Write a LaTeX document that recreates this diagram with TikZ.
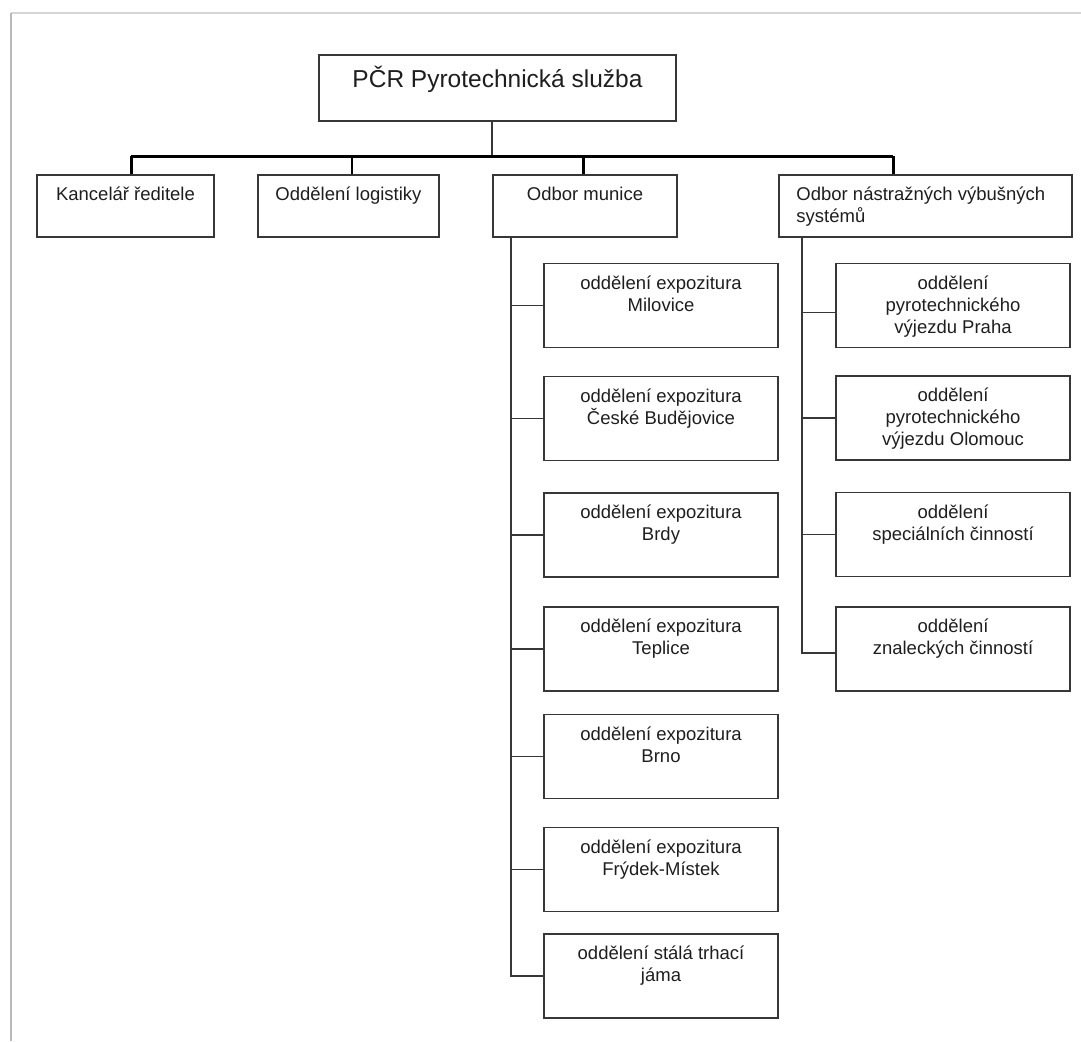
\documentclass[tikz,border=0pt]{standalone}
\usepackage{fontspec}
\setmainfont{Liberation Sans}
\usepackage{xcolor}
\usetikzlibrary{positioning,calc}
\definecolor{box_c}{RGB}{55,55,55}
\definecolor{txt_c}{RGB}{30,30,30}
\definecolor{edge_c}{RGB}{185,185,185}

\begin{document}
\begin{tikzpicture}[
  x=1pt, y=-1pt,
  every node/.style={text=txt_c},
  unit/.style={draw=box_c, line width=1.5pt, inner sep=0pt,
               minimum width=234pt, minimum height=84pt},
  head/.style={draw=box_c, line width=1.5pt, inner sep=0pt, minimum height=62pt},
  lab/.style={font=\fontsize{18.5}{22}\selectfont, align=center, inner sep=0pt,
              anchor=north, yshift=-12.5pt},
  link/.style={draw=box_c, line width=1.4pt},
  bus/.style={draw=black, line width=3pt},
]
\useasboundingbox (0,0) rectangle (1081,1041);
% page edge
\draw[edge_c!60, line width=2pt] (11,13) -- (1081,13);
\draw[edge_c, line width=2.5pt] (11,13) -- (11,1041);

% top
\node[draw=box_c, line width=1.5pt, minimum width=357pt, minimum height=66pt] (root) at (497.5,88) {};
\node[font=\fontsize{24.5}{28}\selectfont, inner sep=0pt, anchor=base] (roottxt) at (497.5,88) {PČR Pyrotechnická služba};

% first level
\node[head, minimum width=177pt] (kanc) at (125.5,206) {};
\node[lab] at (kanc.north) {Kancelář ředitele};
\node[head, minimum width=181pt] (log) at (348.5,206) {};
\node[lab] at (log.north) {Oddělení logistiky};
\node[head, minimum width=184pt] (mun) at (585,206) {};
\node[lab] at (mun.north) {Odbor munice};
\node[head, minimum width=293pt] (nvs) at (925.5,206) {};
\node[lab, align=left, anchor=north west, xshift=18pt] at (nvs.north west) {Odbor nástražných výbušných\\systémů};

% bus
\coordinate (b0) at (492,156);
\coordinate (b1) at (131,156);
\coordinate (b2) at (352,156);
\coordinate (b3) at (583,156);
\coordinate (b4) at (893,156);
\draw[link] (root.south -| b0) -- (b0);
\draw[bus] (b1) -- (b4);
\draw[bus] (b1) -- (b1 |- kanc.north);
\draw[bus, line width=2.6pt] (b2) -- (b2 |- log.north);
\draw[bus] (b3) -- (b3 |- mun.north);
\draw[bus] (b4) -- (b4 |- nvs.north);

% Odbor munice
\node[unit] (mil) at (661,305.5) {};
\node[lab] at (mil.north) {oddělení expozitura\\Milovice};
\node[unit] (bud) at (661,418.5) {};
\node[lab] at (bud.north) {oddělení expozitura\\České Budějovice};
\node[unit] (brd) at (661,535) {};
\node[lab] at (brd.north) {oddělení expozitura\\Brdy};
\node[unit] (tep) at (661,649) {};
\node[lab] at (tep.north) {oddělení expozitura\\Teplice};
\node[unit] (brn) at (661,756.5) {};
\node[lab] at (brn.north) {oddělení expozitura\\Brno};
\node[unit] (fry) at (661,869.5) {};
\node[lab] at (fry.north) {oddělení expozitura\\Frýdek-Místek};
\node[unit] (jam) at (661,976) {};
\node[lab] at (jam.north) {oddělení stálá trhací\\jáma};

\coordinate (ms) at (511,237);
\draw[link] (ms |- mun.south) -- (ms |- jam.west) -- (jam.west);
\foreach \b in {mil,bud,brd,tep,brn,fry}
  \draw[link] (ms |- \b.west) -- (\b.west);

% Odbor NVS
\node[unit] (pha) at (953,305.5) {};
\node[lab] at (pha.north) {oddělení\\pyrotechnického\\výjezdu Praha};
\node[unit] (olo) at (953,418) {};
\node[lab] at (olo.north) {oddělení\\pyrotechnického\\výjezdu Olomouc};
\node[unit] (spc) at (953,534.5) {};
\node[lab] at (spc.north) {oddělení\\speciálních činností};
\node[unit] (zna) at (953,649) {};
\node[lab] at (zna.north) {oddělení\\znaleckých činností};

\coordinate (ns) at (802,237);
\draw[link] (ns |- nvs.south) -- ([yshift=-4pt]ns |- zna.west) -- ([yshift=-4pt]zna.west);
\draw[link] ([yshift=-7pt]ns |- pha.west) -- ([yshift=-7pt]pha.west);
\foreach \b in {olo,spc}
  \draw[link] (ns |- \b.west) -- (\b.west);
\end{tikzpicture}
\end{document}
